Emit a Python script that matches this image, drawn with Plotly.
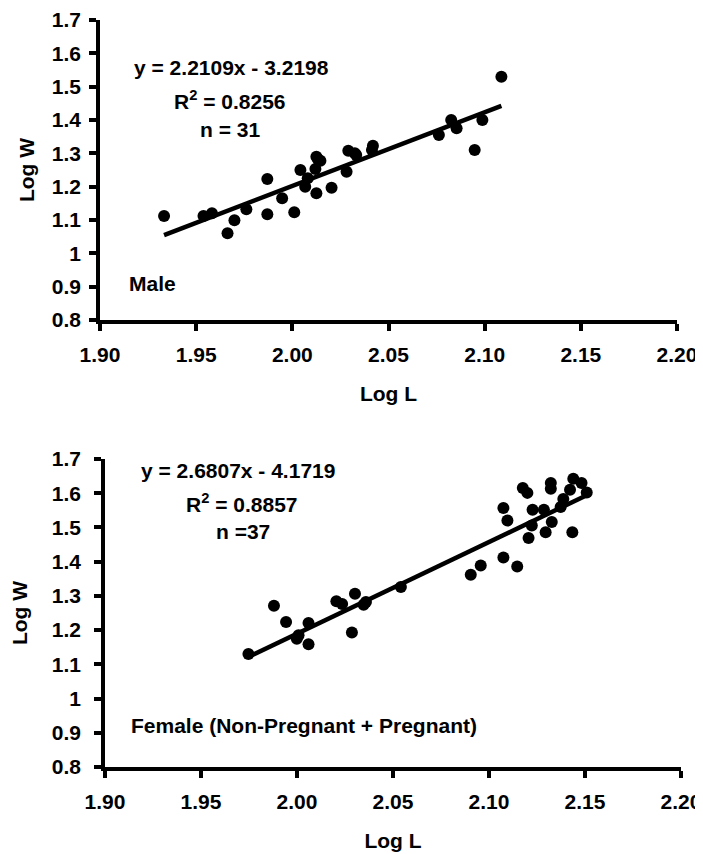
import plotly.graph_objects as go

# Male data (Log L, Log W)
male_logL = [1.9333, 1.9538, 1.9582, 1.9663, 1.9699, 1.9761, 1.9870, 1.9870, 1.9947, 2.0010,
             2.0042, 2.0067, 2.0080, 2.0125, 2.0146, 2.0120, 2.0125, 2.0204, 2.0282, 2.0291,
             2.0332, 2.0419, 2.0414, 2.0762, 2.0826, 2.0854, 2.0948, 2.0988, 2.1087, 2.0132, 2.0325]
male_logW = [1.112, 1.112, 1.120, 1.060, 1.099, 1.132, 1.223, 1.117, 1.165, 1.123,
             1.250, 1.200, 1.225, 1.290, 1.278, 1.253, 1.180, 1.197, 1.245, 1.308,
             1.295, 1.323, 1.310, 1.355, 1.400, 1.375, 1.310, 1.400, 1.530, 1.283, 1.300]

# Female data (Log L, Log W)
female_logL = [1.9747, 1.9880, 1.9943, 1.9999, 2.0060, 2.0060, 2.0205, 2.0235, 2.0302, 2.0286,
               2.0347, 2.0359, 2.0541, 2.0905, 2.0957, 2.1075, 2.1147, 2.1075, 2.1096, 2.1176,
               2.1200, 2.1206, 2.1223, 2.1227, 2.1286, 2.1295, 2.1322, 2.1322, 2.1327, 2.1373,
               2.1387, 2.1422, 2.1434, 2.1439, 2.1482, 2.1509, 2.0008]
female_logW = [1.130, 1.271, 1.224, 1.175, 1.221, 1.159, 1.284, 1.276, 1.306, 1.193,
               1.274, 1.282, 1.326, 1.362, 1.389, 1.412, 1.386, 1.557, 1.520, 1.615,
               1.601, 1.469, 1.506, 1.552, 1.552, 1.486, 1.630, 1.613, 1.516, 1.560,
               1.583, 1.610, 1.486, 1.642, 1.630, 1.602, 1.185]

male_a, male_b = 2.2109, -3.2198
female_a, female_b = 2.6807, -4.1719

x_ticks = [1.90, 1.95, 2.00, 2.05, 2.10, 2.15, 2.20]
y_ticks = [0.8, 0.9, 1.0, 1.1, 1.2, 1.3, 1.4, 1.5, 1.6, 1.7]
y_ticktext = ["0.8", "0.9", "1", "1.1", "1.2", "1.3", "1.4", "1.5", "1.6", "1.7"]

# page is 703x854; the HTML body adds an 8px offset, so the figure is drawn 8px in
OFF = 8
FW, FH = 703 - OFF, 854 - OFF
FONT = "Liberation Sans, Arial, sans-serif"
FS = 21

def px_x(p):
    return (p - OFF) / FW

def px_y(p):
    return 1 - (p - OFF) / FH

fig = go.Figure()

def add_panel(xs, ys, a, b, xaxis, yaxis):
    fig.add_trace(go.Scatter(x=xs, y=ys, mode="markers",
                             marker=dict(color="black", size=12, line=dict(width=0)),
                             xaxis=xaxis, yaxis=yaxis, showlegend=False, cliponaxis=False))
    x0, x1 = min(xs), max(xs)
    fig.add_trace(go.Scatter(x=[x0, x1], y=[a * x0 + b, a * x1 + b], mode="lines",
                             line=dict(color="black", width=4.5),
                             xaxis=xaxis, yaxis=yaxis, showlegend=False))

add_panel(male_logL, male_logW, male_a, male_b, "x", "y")
add_panel(female_logL, female_logW, female_a, female_b, "x2", "y2")

def xax(domain, anchor):
    return dict(domain=domain, anchor=anchor, range=[1.90, 2.20], tickvals=x_ticks,
                tickformat=".2f", showline=True, linecolor="black", linewidth=3.5,
                ticks="outside", ticklen=7, tickwidth=3.5, tickcolor="black",
                showgrid=False, zeroline=False, ticklabeloverflow="allow",
                ticklabelstandoff=6, automargin=False,
                tickfont=dict(family=FONT, size=FS, color="black", weight="bold"),
                title=dict(text="<b>Log L</b>", font=dict(family=FONT, size=FS, color="black"),
                           standoff=22))

def yax(domain, anchor, standoff, lstand):
    return dict(domain=domain, anchor=anchor, range=[0.8, 1.7], tickvals=y_ticks,
                ticktext=y_ticktext, showline=True, linecolor="black", linewidth=3.5,
                ticks="outside", ticklen=7, tickwidth=3.5, tickcolor="black",
                showgrid=False, zeroline=False, ticklabelstandoff=lstand, automargin=False,
                tickfont=dict(family=FONT, size=FS, color="black", weight="bold"),
                title=dict(text="<b>Log W</b>", font=dict(family=FONT, size=FS, color="black"),
                           standoff=standoff))

fig.update_layout(
    width=FW, height=FH,
    margin=dict(l=0, r=0, t=0, b=0, autoexpand=False),
    paper_bgcolor="white", plot_bgcolor="white",
    xaxis=xax([px_x(100), px_x(677)], "y"),
    yaxis=yax([px_y(320), px_y(20)], "x", 12, 4),
    xaxis2=xax([px_x(105), px_x(681)], "y2"),
    yaxis2=yax([px_y(767), px_y(459)], "x2", 22, 9),
)

def note(text, px, py, anchor="center"):
    fig.add_annotation(text=text, x=px_x(px), y=px_y(py), xref="paper", yref="paper",
                       showarrow=False, xanchor=anchor, yanchor="middle",
                       font=dict(family=FONT, size=FS, color="black"))

note("<b>y = 2.2109x - 3.2198</b>", 231, 68)
note("<b>R<sup>2</sup> = 0.8256</b>", 230, 100)
note("<b>n = 31</b>", 230, 130)
note("<b>Male</b>", 127, 283, "left")

note("<b>y = 2.6807x - 4.1719</b>", 238, 471)
note("<b>R<sup>2</sup> = 0.8857</b>", 242, 503)
note("<b>n =37</b>", 243, 531)
note("<b>Female (Non-Pregnant + Pregnant)</b>", 129, 725, "left")

fig.write_html("out.html")
